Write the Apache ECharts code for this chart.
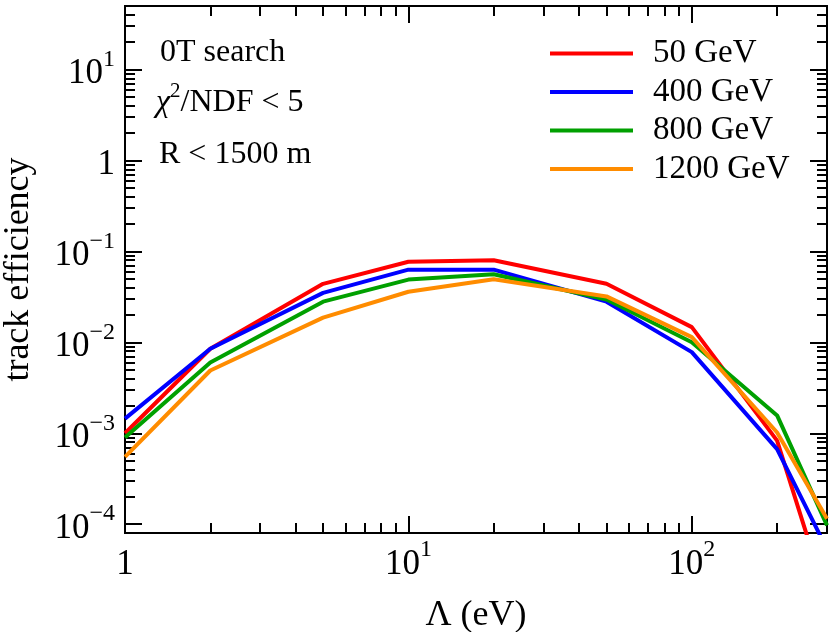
<!DOCTYPE html>
<html>
<head>
<meta charset="utf-8">
<script src="https://cdn.jsdelivr.net/npm/echarts@6/dist/echarts.min.js"></script>
<style>
  html, body { margin: 0; padding: 0; background: #fff; }
  #chart { width: 834px; height: 632px; }
</style>
</head>
<body>
<div id="chart"></div>
<script>
// Λ (eV) sample points
const energies = [1, 2, 5, 10, 20, 50, 100, 200, 300]
// track efficiency per mass point
const eff50 = [1.0e-3, 8.5e-3, 0.044, 0.077, 0.080, 0.044, 0.0147, 8.3e-4, 1.5e-5]
const eff400 = [1.45e-3, 8.5e-3, 0.035, 0.063, 0.063, 0.028, 0.0078, 6.7e-4, 5.3e-5]
const eff800 = [9.0e-4, 6.0e-3, 0.028, 0.049, 0.056, 0.0296, 0.0100, 1.57e-3, 9.7e-5]
const eff1200 = [5.5e-4, 4.9e-3, 0.0187, 0.036, 0.0495, 0.032, 0.0114, 1.02e-3, 1.15e-4]
const seriesNames = ['50 GeV', '400 GeV', '800 GeV', '1200 GeV']
const seriesColors = ['#ff0000', '#0000ff', '#00a000', '#ff8c00']
const xTickLabels = [1, 10, 100]
const yTickLabels = [1e-4, 1e-3, 1e-2, 1e-1, 1, 10]

const X_MIN = 1, X_MAX = 300
const Y_MIN = 8e-5, Y_MAX = 50
const FONT = '"Liberation Serif", "DejaVu Serif", serif'

function minorTicks(lo, hi) {
  const out = []
  for (let d = Math.floor(Math.log10(lo)); d <= Math.ceil(Math.log10(hi)); d++) {
    for (let k = 2; k <= 9; k++) {
      const v = k * Math.pow(10, d)
      if (v >= lo && v <= hi) out.push(v)
    }
  }
  return out
}
const xMinor = minorTicks(X_MIN, X_MAX)
const yMinor = minorTicks(1e-4, Y_MAX)

function powLabel(v) {
  const e = Math.round(Math.log10(v))
  if (e === 0) return '{b|1}'
  return '{b|10}{s|' + (e < 0 ? '\u2212' + (-e) : e) + '}'
}
const rich = {
  b: { fontSize: 35, fontFamily: FONT, color: '#000', lineHeight: 44, verticalAlign: 'bottom' },
  s: { fontSize: 24, fontFamily: FONT, color: '#000', lineHeight: 22, verticalAlign: 'top' }
}
const line = { show: true, onZero: false, lineStyle: { color: '#000', width: 2 } }

// builds one side of the frame: major or minor ticks
function makeAxis(kind, pos, ticks, len, labels) {
  const ax = {
    type: 'log',
    position: pos,
    min: kind === 'x' ? X_MIN : Y_MIN,
    max: kind === 'x' ? X_MAX : Y_MAX,
    axisLine: line,
    axisTick: { show: true, inside: true, length: len, customValues: ticks, lineStyle: { color: '#000', width: 2 } },
    splitLine: { show: false },
    minorTick: { show: false },
    axisLabel: { show: false }
  }
  if (labels) {
    ax.axisLabel = {
      show: true,
      customValues: labels,
      margin: kind === 'x' ? 5 : 10,
      formatter: powLabel,
      rich: rich
    }
  }
  return ax
}

const xAxes = [
  makeAxis('x', 'bottom', xTickLabels, 17, xTickLabels),
  makeAxis('x', 'bottom', xMinor, 10),
  makeAxis('x', 'top', xTickLabels, 17),
  makeAxis('x', 'top', xMinor, 10)
]
xAxes[0].name = 'Λ (eV)'
xAxes[0].nameLocation = 'middle'
xAxes[0].nameGap = 65
xAxes[0].nameTextStyle = { fontSize: 36, fontFamily: FONT, color: '#000' }

const yAxes = [
  makeAxis('y', 'left', yTickLabels, 17, yTickLabels),
  makeAxis('y', 'left', yMinor, 10),
  makeAxis('y', 'right', yTickLabels, 17),
  makeAxis('y', 'right', yMinor, 10)
]
yAxes[0].name = 'track efficiency'
yAxes[0].nameLocation = 'middle'
yAxes[0].nameGap = 88
yAxes[0].nameTextStyle = { fontSize: 36, fontFamily: FONT, color: '#000' }

const allEff = [eff50, eff400, eff800, eff1200]
const series = allEff.map((vals, i) => ({
  name: seriesNames[i],
  type: 'line',
  xAxisIndex: 0,
  yAxisIndex: 0,
  showSymbol: false,
  symbol: 'none',
  clip: true,
  itemStyle: { color: seriesColors[i] },
  lineStyle: { color: seriesColors[i], width: 4 },
  data: energies.map((x, j) => [x, vals[j]])
}))

const textRich = {
  n: { fontSize: 32, fontFamily: FONT, color: '#000', lineHeight: 38, verticalAlign: 'bottom' },
  i: { fontSize: 32, fontFamily: FONT, fontStyle: 'italic', color: '#000', lineHeight: 38, verticalAlign: 'bottom' },
  s: { fontSize: 21, fontFamily: FONT, color: '#000', lineHeight: 18, verticalAlign: 'top' }
}

const chart = echarts.init(document.getElementById('chart'))
chart.setOption({
  animation: false,
  backgroundColor: '#fff',
  grid: { left: 125, right: 7, top: 6, bottom: 99, containLabel: false, outerBoundsMode: 'none' },
  xAxis: xAxes,
  yAxis: yAxes,
  legend: {
    orient: 'vertical',
    left: 545,
    top: 32,
    icon: 'rect',
    itemWidth: 83,
    itemHeight: 4,
    itemGap: 5.5,
    data: seriesNames,
    textStyle: { fontSize: 33, fontFamily: FONT, color: '#000', lineHeight: 32, padding: [0, 0, 0, 15] }
  },
  graphic: [
    { type: 'text', left: 160, top: 37, style: { text: '{n|0T search}', rich: textRich } },
    { type: 'text', left: 156, top: 81, style: { text: '{i|χ}{s|2}{n|/NDF < 5}', rich: textRich } },
    { type: 'text', left: 159, top: 139, style: { text: '{n|R < 1500 m}', rich: textRich } }
  ],
  series: series
})
</script>
</body>
</html>
